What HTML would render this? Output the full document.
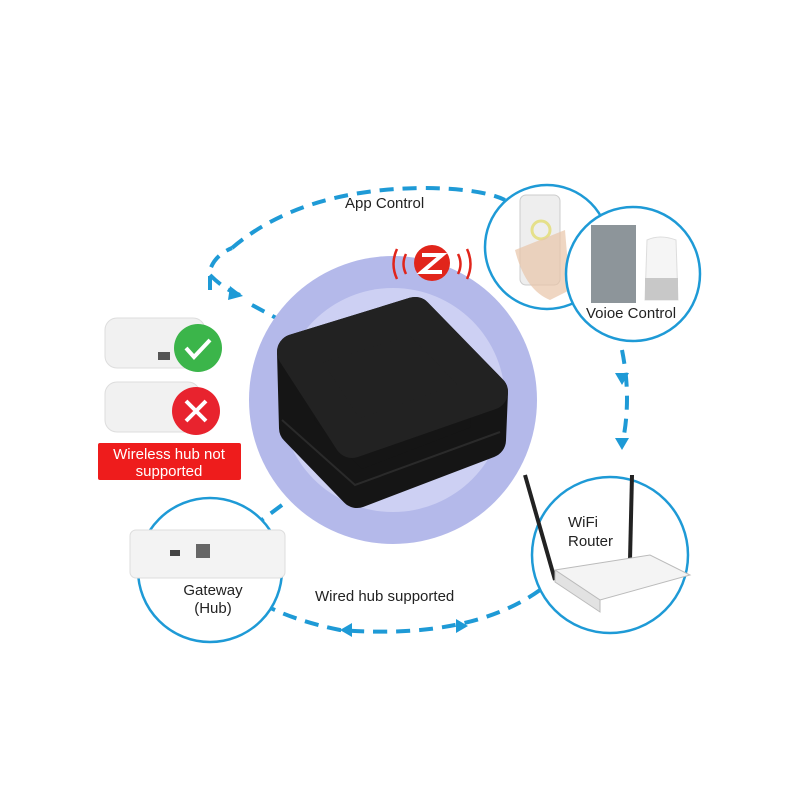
<!DOCTYPE html>
<html><head><meta charset="utf-8"><style>
html,body{margin:0;padding:0;background:#fff;}
svg{display:block;font-family:"Liberation Sans",sans-serif;}
</style></head><body>
<svg width="800" height="800" viewBox="0 0 800 800" xmlns="http://www.w3.org/2000/svg">
<rect width="800" height="800" fill="#fff"/>
<!-- dashed big circle -->
<g fill="none" stroke="#1e9ad6" stroke-width="4" stroke-dasharray="14 9">
<path d="M232 248 Q 300 190 420 188 Q 480 188 505 200"/>
<path d="M210 290 L 210 270 Q 215 255 232 248"/>
<path d="M210 275 Q 225 290 240 295"/>
<path d="M252 305 L 280 320"/>
<path d="M622 350 Q 632 400 622 445"/>
<path d="M282 505 L 255 525"/>
<path d="M540 590 Q 470 640 340 630 Q 290 620 255 600"/>
</g>
<g fill="#1e9ad6">
<polygon points="243,296 230,286 228,300"/>
<polygon points="622,385 615,373 629,373"/>
<polygon points="622,450 615,438 629,438"/>
<polygon points="340,630 352,623 352,637"/>
<polygon points="468,626 456,619 456,633"/>
</g>
<text x="345" y="208" font-size="15" fill="#222">App Control</text>
<text x="315" y="601" font-size="15" fill="#222">Wired hub supported</text>
<!-- central hub -->
<circle cx="393" cy="400" r="144" fill="#b4b9ea"/>
<circle cx="393" cy="400" r="112" fill="#cdd0f3"/>
<g stroke-linejoin="round" stroke-width="36">
<polygon points="295,352 415,315 490,392 488,440 357,490 297,428" fill="#151515" stroke="#151515"/>
<polygon points="295,352 415,315 490,392 352,440" fill="#222" stroke="#222"/>
</g>
<path d="M282 420 L355 485 L500 432" fill="none" stroke="#2a2a2a" stroke-width="2"/>
<!-- zigbee -->
<circle cx="432" cy="263" r="18" fill="#e1251b"/>
<path d="M422 255 L442 255 L422 272 L442 272" fill="none" stroke="#fff" stroke-width="4"/>
<g fill="none" stroke="#e1251b" stroke-width="2.5">
<path d="M406 254 Q401 264 406 274"/><path d="M397 249 Q390 264 397 279"/>
<path d="M458 254 Q463 264 458 274"/><path d="M467 249 Q474 264 467 279"/>
</g>
<!-- left hubs -->
<rect x="105" y="318" width="100" height="50" rx="12" fill="#f1f1f1" stroke="#ddd"/>
<rect x="158" y="352" width="12" height="8" fill="#555"/>
<circle cx="198" cy="348" r="24" fill="#3bb54a"/>
<path d="M186 348 l8 9 l16 -17" fill="none" stroke="#fff" stroke-width="4"/>
<rect x="105" y="382" width="95" height="50" rx="12" fill="#f1f1f1" stroke="#ddd"/>
<circle cx="196" cy="411" r="24" fill="#e8232e"/>
<path d="M186 401 l20 20 M206 401 l-20 20" stroke="#fff" stroke-width="4"/>
<rect x="98" y="443" width="143" height="37" rx="2" fill="#ee1c1c"/>
<text x="169" y="459" font-size="15" fill="#fff" text-anchor="middle">Wireless hub not</text>
<text x="169" y="476" font-size="15" fill="#fff" text-anchor="middle">supported</text>
<!-- gateway circle -->
<circle cx="210" cy="570" r="72" fill="#fff" stroke="#1e9ad6" stroke-width="2.5"/>
<rect x="130" y="530" width="155" height="48" rx="6" fill="#f3f3f3" stroke="#ddd"/>
<rect x="196" y="544" width="14" height="14" fill="#666"/>
<rect x="170" y="550" width="10" height="6" fill="#444"/>
<text x="213" y="595" font-size="15" fill="#222" text-anchor="middle">Gateway</text>
<text x="213" y="613" font-size="15" fill="#222" text-anchor="middle">(Hub)</text>
<!-- router circle -->
<circle cx="610" cy="555" r="78" fill="#fff" stroke="#1e9ad6" stroke-width="2.5"/>
<line x1="525" y1="475" x2="555" y2="580" stroke="#222" stroke-width="4"/>
<line x1="632" y1="475" x2="630" y2="560" stroke="#222" stroke-width="4"/>
<polygon points="555,570 650,555 690,575 600,600" fill="#f4f4f4" stroke="#bbb"/>
<polygon points="555,570 600,600 600,612 555,582" fill="#e2e2e2" stroke="#bbb"/>
<text x="568" y="527" font-size="15" fill="#222">WiFi</text>
<text x="568" y="546" font-size="15" fill="#222">Router</text>
<!-- phone circle -->
<circle cx="547" cy="247" r="62" fill="#fff" stroke="#1e9ad6" stroke-width="2.5"/>
<rect x="520" y="195" width="40" height="90" rx="6" fill="#eee" stroke="#ccc"/>
<circle cx="541" cy="230" r="9" fill="none" stroke="#e5e08a" stroke-width="3"/>
<path d="M515 250 Q525 290 550 300 L570 290 L565 230 Z" fill="#e8c4a8" opacity="0.7"/>
<!-- voice circle -->
<circle cx="633" cy="274" r="67" fill="#fff" stroke="#1e9ad6" stroke-width="2.5"/>
<rect x="591" y="225" width="45" height="78" fill="#8d959a"/>
<path d="M647 240 Q660 234 676 240 L678 300 L645 300 Z" fill="#f5f5f5" stroke="#ddd"/>
<rect x="645" y="278" width="33" height="22" fill="#c8c8c8"/>
<text x="631" y="318" font-size="15" fill="#222" text-anchor="middle">Voioe Control</text>
</svg>
</body></html>
